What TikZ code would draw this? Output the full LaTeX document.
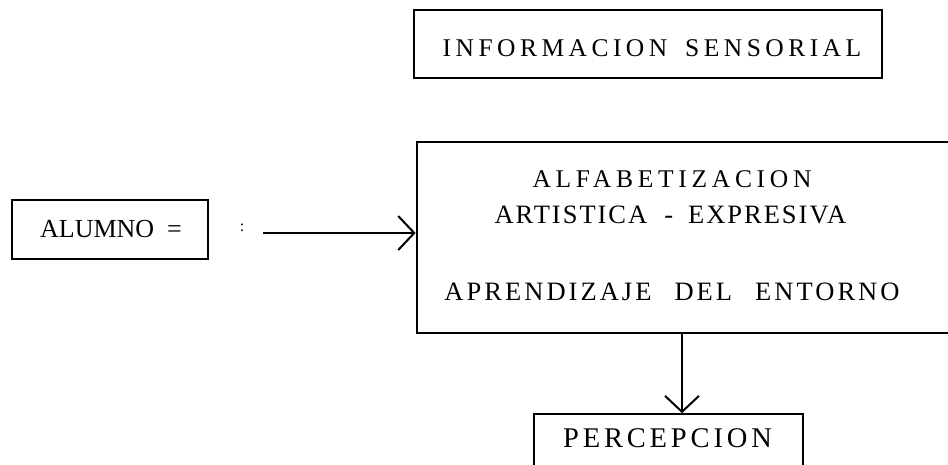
\documentclass[tikz,border=0pt]{standalone}
\usepackage{fontspec}
\setmainfont{Liberation Serif}
\usetikzlibrary{arrows.meta}
\tikzset{
  boxline/.style={draw=black, line width=2.8pt},
  thinbox/.style={draw=black, line width=1.6pt},
  txt/.style={anchor=base, inner sep=0pt, text=black},
  conn/.style={draw=black, line width=2pt, -{Straight Barb[length=16pt,width=34pt,line width=2pt]}},
}
\begin{document}
\begin{tikzpicture}[x=1pt,y=-1pt]
\clip (0,0) rectangle (948,464);
\fill[white] (0,0) rectangle (948,464);
% top box
\node[boxline, minimum width=468pt, minimum height=68pt, inner sep=0pt] (info) at (648,44) {};
\node[txt, font=\fontsize{25.5}{28}\selectfont\addfontfeature{LetterSpace=17.5}] (infotxt) at (652,56.5) {INFORMACION\hspace{18pt}SENSORIAL};
% middle box (right side runs off the picture)
\node[boxline, minimum width=545pt, minimum height=191pt, inner sep=0pt] (mid) at (689.5,237.5) {};
\node[txt, font=\fontsize{25.5}{28}\selectfont\addfontfeature{LetterSpace=18.5}] (m1) at (672,187.5) {ALFABETIZACION};
\node[txt, font=\fontsize{26.5}{28}\selectfont\addfontfeature{LetterSpace=7.5}] (m2) at (670.5,223) {ARTISTICA\hspace{17pt}-\hspace{15pt}EXPRESIVA};
\node[txt, font=\fontsize{26.5}{28}\selectfont\addfontfeature{LetterSpace=11.5}] (m3) at (672,300) {APRENDIZAJE\hspace{23pt}DEL\hspace{23pt}ENTORNO};
% alumno box
\node[boxline, minimum width=196pt, minimum height=59pt, inner sep=0pt] (alumno) at (110,229.5) {};
\node[txt, font=\fontsize{26}{30}\selectfont] (alumnotxt) at (111,237) {ALUMNO\hspace{0.5em}=};
% colon
\node[txt, font=\fontsize{16}{18}\selectfont] (colon) at (242,231) {:};
% percepcion box (bottom runs off the picture)
\node[thinbox, minimum width=269pt, minimum height=70pt, inner sep=0pt] (perc) at (668.5,449) {};
\node[txt, font=\fontsize{28.5}{30}\selectfont\addfontfeature{LetterSpace=13.5}] (perctxt) at (667.5,447.5) {PERCEPCION};
% connectors
\coordinate (astart) at (263,233);
\draw[conn] (astart) -- (astart -| mid.west);
\coordinate (vtop) at (682,333);
\draw[conn] (vtop) -- (vtop |- perc.north);
\end{tikzpicture}
\end{document}
